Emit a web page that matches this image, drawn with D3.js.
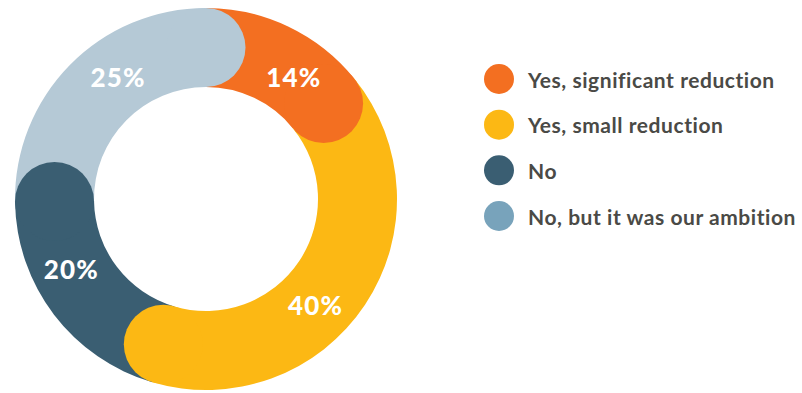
<!DOCTYPE html>
<html>
<head>
<meta charset="utf-8">
<script src="https://cdn.jsdelivr.net/npm/d3@7/dist/d3.min.js"></script>
<style>
  html, body { margin: 0; padding: 0; background: #ffffff; }
  svg { display: block; }
</style>
</head>
<body>
<script>
// Survey answers and their shares (%)
const categories = ["Yes, significant reduction", "Yes, small reduction", "No", "No, but it was our ambition"];
const values = [14, 40, 20, 25];
const sliceColors = ["#f36f21", "#fcb814", "#3a5e72", "#b5c9d6"];
const legendColors = ["#f36f21", "#fcb814", "#3a5e72", "#78a3bb"];
const valueLabels = ["14%", "40%", "20%", "25%"];

const width = 802, height = 393;
const cx = 206, cy = 199;
const outerR = 191, innerR = 112;
const midR = (outerR + innerR) / 2;
const capR = (outerR - innerR) / 2;
const labelShift = 10 * Math.PI / 180;

const svg = d3.select("body").append("svg")
  .attr("width", width)
  .attr("height", height);

const data = categories.map((c, i) => ({ name: c, value: values[i], color: sliceColors[i], label: valueLabels[i] }));

const pie = d3.pie().sort(null).value(d => d.value);
const arcs = pie(data);

const ring = d3.arc().innerRadius(innerR).outerRadius(outerR);
const mid = d3.arc().innerRadius(midR).outerRadius(midR);

const g = svg.append("g").attr("transform", `translate(${cx},${cy})`);

// Ring segments
g.selectAll("path.seg")
  .data(arcs)
  .join("path")
  .attr("class", "seg")
  .attr("d", ring)
  .attr("fill", d => d.data.color);

// Rounded caps at the end of each segment, lying over the following one
g.selectAll("circle.cap")
  .data(arcs)
  .join("circle")
  .attr("class", "cap")
  .attr("cx", d => mid.centroid({ startAngle: d.endAngle, endAngle: d.endAngle })[0])
  .attr("cy", d => mid.centroid({ startAngle: d.endAngle, endAngle: d.endAngle })[1])
  .attr("r", capR)
  .attr("fill", d => d.data.color);

// Percentage labels
g.selectAll("text.pct")
  .data(arcs)
  .join("text")
  .attr("class", "pct")
  .attr("transform", d => {
    const a = (d.startAngle + d.endAngle) / 2 + labelShift;
    const p = mid.centroid({ startAngle: a, endAngle: a });
    return `translate(${p[0]},${p[1] + 1})`;
  })
  .attr("text-anchor", "middle")
  .attr("dominant-baseline", "central")
  .attr("fill", "#ffffff")
  .attr("font-family", "Lato, 'Open Sans', sans-serif")
  .attr("font-weight", 900)
  .attr("font-size", 26)
  .attr("letter-spacing", 1.2)
  .text(d => d.data.label);

// Legend
const legendY = d3.scalePoint().domain(categories).range([79, 216]);
const legend = svg.append("g");
const items = legend.selectAll("g.item")
  .data(categories)
  .join("g")
  .attr("class", "item")
  .attr("transform", d => `translate(499,${legendY(d)})`);

items.append("circle")
  .attr("r", 15)
  .attr("fill", (d, i) => legendColors[i]);

items.append("text")
  .attr("x", 29)
  .attr("dominant-baseline", "central")
  .attr("fill", "#4a4a46")
  .attr("font-family", "Lato, 'Open Sans', sans-serif")
  .attr("font-weight", 700)
  .attr("font-size", 21)
  .attr("letter-spacing", 0.55)
  .text(d => d);
</script>
</body>
</html>
